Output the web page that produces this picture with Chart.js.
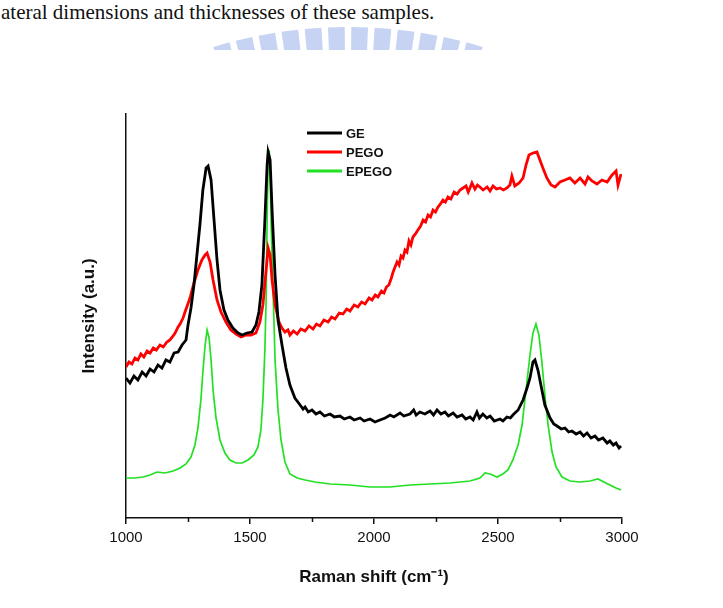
<!DOCTYPE html>
<html><head><meta charset="utf-8">
<script src="https://cdn.jsdelivr.net/npm/chart.js@4.4.1/dist/chart.umd.min.js"></script>
<style>
html,body{margin:0;padding:0;background:#fff;width:723px;height:608px;overflow:hidden;}
#wrap{position:relative;width:723px;height:608px;}
#c{position:absolute;left:0;top:0;}
#mark{position:absolute;left:0;top:0;}
#para{position:absolute;left:1px;top:2px;font-family:'Liberation Serif','Times New Roman',serif;font-size:21px;line-height:21px;color:#111;white-space:nowrap;}
</style></head>
<body><div id="wrap">
<svg id="mark" width="723" height="60" xmlns="http://www.w3.org/2000/svg"></svg>
<div id="para">ateral dimensions and thicknesses of these samples.</div>
<canvas id="c" width="723" height="608"></canvas>
</div>
<script>
// ---- data ----
const seriesNames = ['GE', 'PEGO', 'EPEGO'];
const xTicks = [1000, 1500, 2000, 2500, 3000];
const xMinorTicks = [1250, 1750, 2250, 2750];

const geShift = [1000,1016,1032,1048,1065,1081,1097,1113,1129,1145,1161,1177,1194,1210,1226,1242,
  1250,1262,1274,1286,1298,1310,1323,1331,1343,1355,1367,1379,1395,1411,1431,1452,1468,1488,1508,1524,1536,1548,1560,1569,1573,1581,1589,1601,1613,1629,1645,1661,1681,
  1702,1714,1722,1735,1750,1766,1782,1800,1823,1840,1863,1880,1903,1920,1944,1960,1984,2004,2024,2045,2065,2080,2105,2120,2145,2160,2170,2185,2205,2226,2240,2254,2270,2286,2300,2319,2335,2355,2370,2387,2400,2415,2425,2439,2455,2468,2485,2508,2520,2536,2550,2560,
  2581,2601,2617,2629,2641,2649,2661,2673,2689,
  2710,2725,2738,2755,2770,2785,2798,2815,2831,2845,2859,2875,2891,2905,2923,2940,2951,2965,2976,2988,2996];
const geIntensity = [140,135,142,138,146,142,149,146,153,150,158,156,165,166,173,178,
  193,210,233,263,293,328,350,352,338,298,258,228,208,198,190,185,183,185,186,193,206,233,298,353,366,358,308,243,198,173,150,133,120,
  113,109,111,106,108,104,106,102,104,101,102,99,101,98,100,97,99,96,98,100,103,101,105,102,104,108,103,106,104,107,103,108,104,106,102,105,101,103,99,101,98,106,100,104,100,102,97,99,97,101,100,103,
  108,118,130,140,156,158,148,133,113,
  100,94,92,89,90,86,87,84,86,82,85,80,82,78,80,75,77,73,75,70,72];

const pegoShift = [1000,1012,1024,1036,1048,1060,1072,1085,1097,1110,1122,1137,1150,1165,1177,1190,1198,1210,1218,1230,1238,
  1258,1274,1290,1306,1319,1327,1339,1351,1367,1383,1403,1423,1444,1464,1484,1504,1524,1540,1552,1565,1573,1581,1589,
  1601,1617,1629,1641,1653,1661,1675,1690,1705,1722,1738,1754,1768,1782,1798,1815,1829,1843,1860,1875,1890,1903,1920,1935,1950,1964,1980,1992,2005,2016,2030,2040,2050,2060,2070,2077,
  2093,2101,2109,2117,2125,2133,2141,2149,2157,2167,2177,2188,2198,2208,2218,2228,2238,2248,2258,2268,2278,2288,2298,2310,2323,2335,2347,2359,2371,2380,2387,2395,2407,2417,2427,2440,2456,2468,2480,2494,2508,2522,2536,2548,2556,2568,
  2585,2601,2613,2625,2641,2657,2669,2681,2697,2714,2730,2750,2770,2790,2810,2831,2851,2863,2879,2899,2919,2940,2960,2976,2984,2996];
const pegoIntensity = [151,156,154,160,158,164,161,167,165,170,168,173,171,176,178,182,185,191,194,200,206,
  220,235,248,258,263,265,256,238,218,206,196,188,184,181,183,183,185,196,213,248,270,263,238,
  213,196,190,186,188,183,187,184,189,187,192,189,194,192,198,196,201,199,205,204,209,207,213,211,216,214,220,218,223,221,227,225,231,233,240,246,
  256,253,262,260,268,266,277,273,281,284,288,292,298,296,303,301,308,306,311,314,318,316,321,319,326,324,328,330,332,326,330,335,329,333,331,328,331,327,332,329,330,328,330,333,342,332,
  335,340,353,363,365,366,358,350,340,333,331,336,338,340,335,340,334,341,337,334,338,336,343,347,333,344];

const epegoShift = [1000,1036,1069,1097,1125,1157,1190,1218,1242,1262,1278,1290,1302,1310,1319,1327,1335,1343,1351,1363,1379,1399,1419,1444,1468,1492,1516,1532,1544,1552,1560,1565,1569,1573,1577,1581,1585,1593,1601,1613,1625,1641,1661,1690,1722,1762,1823,1903,1984,2065,2145,2226,2306,2387,2427,2448,2468,2496,2520,2540,2560,2581,2597,2613,2629,2641,2653,2665,2677,2689,2702,2718,2734,2758,2790,2831,2871,2903,2927,2951,2976,2996];
const epegoIntensity = [40,40,41,43,46,45,47,50,54,61,73,90,118,146,173,188,180,158,128,100,78,65,58,55,55,58,63,71,88,118,168,218,298,358,368,353,298,228,158,108,78,56,44,40,38,36,34,33,31,31,33,34,35,37,40,45,44,41,44,48,58,73,93,128,163,185,194,183,156,123,93,66,51,41,37,36,37,39,36,33,30,28];

// ---- decorative scan watermark (light blue sunburst stripes) ----
(function(){
  const svg = document.getElementById('mark');
  const ns = 'http://www.w3.org/2000/svg';
  const cx = 348, cy = 493, R1 = 466, R0 = 420, n = 12, a0 = -17.2, a1 = 17.2;
  const defs = document.createElementNS(ns,'defs');
  const cp = document.createElementNS(ns,'clipPath'); cp.setAttribute('id','clipm');
  const rc = document.createElementNS(ns,'rect'); rc.setAttribute('x',0); rc.setAttribute('y',0); rc.setAttribute('width',723); rc.setAttribute('height',50);
  cp.appendChild(rc); defs.appendChild(cp); svg.appendChild(defs);
  const g = document.createElementNS(ns,'g'); g.setAttribute('clip-path','url(#clipm)');
  const per = (a1 - a0) / n;
  for (let i = 0; i < n; i++) {
    const s = a0 + i*per + per*0.14, e = s + per*0.72;
    const pt = (a, r) => { const t = a*Math.PI/180; return (cx + r*Math.sin(t)).toFixed(1)+','+(cy - r*Math.cos(t)).toFixed(1); };
    const p = document.createElementNS(ns,'polygon');
    p.setAttribute('points', [pt(s,R0),pt(s,R1),pt(e,R1),pt(e,R0)].join(' '));
    p.setAttribute('fill','#c6d3f3');
    g.appendChild(p);
  }
  svg.appendChild(g);
})();

const FONT = "'Liberation Sans', Arial, Helvetica, sans-serif";
const colors = ['#000000', '#ff0000', '#22e022'];
const widths = [2.8, 2.8, 1.7];
const shifts = [geShift, pegoShift, epegoShift];
const intens = [geIntensity, pegoIntensity, epegoIntensity];

const minorTickPlugin = {
  id: 'minorTicks',
  afterDraw(chart) {
    const ctx = chart.ctx, xs = chart.scales.x, b = chart.chartArea.bottom;
    ctx.save();
    ctx.strokeStyle = '#111'; ctx.lineWidth = 1.5;
    xMinorTicks.forEach(v => {
      const px = Math.round(xs.getPixelForValue(v)) + 0.5;
      ctx.beginPath(); ctx.moveTo(px, b); ctx.lineTo(px, b + 4); ctx.stroke();
    });
    ctx.restore();
  }
};

const legendPlugin = {
  id: 'insideLegend',
  afterDraw(chart) {
    const ctx = chart.ctx, ca = chart.chartArea;
    const x0 = ca.left + 181, x1 = ca.left + 216, tx = ca.left + 220;
    ctx.save();
    ctx.font = 'bold 13px ' + FONT;
    ctx.textBaseline = 'middle';
    ctx.textAlign = 'left';
    chart.data.datasets.forEach((ds, i) => {
      const y = ca.top + 19 + i * 19;
      ctx.strokeStyle = ds.borderColor; ctx.lineWidth = 3;
      ctx.beginPath(); ctx.moveTo(x0, y); ctx.lineTo(x1, y); ctx.stroke();
      ctx.fillStyle = '#111';
      ctx.fillText(ds.label, tx, y + 1);
    });
    ctx.restore();
  }
};

new Chart(document.getElementById('c'), {
  type: 'line',
  data: {
    datasets: seriesNames.map((name, k) => ({
      label: name,
      data: shifts[k].map((x, i) => ({ x: x, y: intens[k][i] })),
      borderColor: colors[k],
      backgroundColor: colors[k],
      borderWidth: widths[k],
      pointRadius: 0,
      tension: 0,
      fill: false
    }))
  },
  options: {
    responsive: false,
    animation: false,
    devicePixelRatio: 1,
    layout: { padding: { top: 114, right: 101, left: 0, bottom: 0 } },
    plugins: { legend: { display: false }, tooltip: { enabled: false } },
    scales: {
      x: {
        type: 'linear', min: 1000, max: 3000,
        afterFit(s) { s.height = 90; },
        afterBuildTicks(s) { s.ticks = xTicks.map(v => ({ value: v })); },
        ticks: { font: { family: FONT, size: 15 }, color: '#111', padding: 5, maxRotation: 0, autoSkip: false, callback: v => String(v) },
        grid: { drawOnChartArea: false, drawTicks: true, tickLength: 6, color: '#111', lineWidth: 1.5 },
        border: { display: true, color: '#111', width: 1.5 },
        title: { display: true, text: 'Raman shift (cm\u207B\u00B9)', font: { family: FONT, size: 17, weight: 'bold' }, color: '#111', padding: { top: 0, bottom: 20 } }
      },
      y: {
        type: 'linear', min: 0, max: 404,
        afterFit(s) { s.width = 126; },
        ticks: { display: false },
        grid: { display: false },
        border: { display: true, color: '#111', width: 1.5 },
        title: { display: true, text: 'Intensity (a.u.)', font: { family: FONT, size: 17, weight: 'bold' }, color: '#111', padding: { top: 79, bottom: 0 } }
      }
    }
  },
  plugins: [minorTickPlugin, legendPlugin]
});
</script>
</body></html>
